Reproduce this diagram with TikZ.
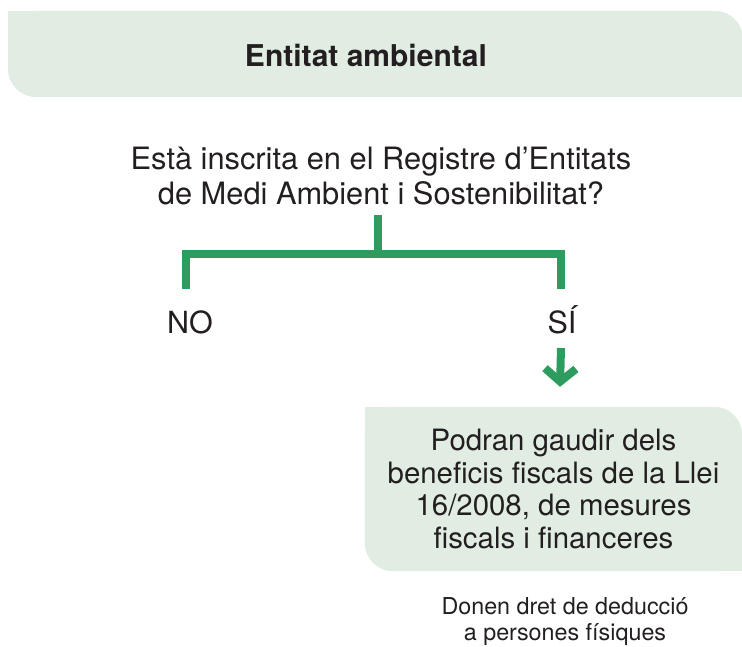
\documentclass[tikz,border=0pt]{standalone}
\usepackage{fontspec}
\setmainfont{TeX Gyre Heros}
\usetikzlibrary{arrows.meta,backgrounds}
\definecolor{leafgreen}{HTML}{2E9B5F}
\definecolor{palegreen}{HTML}{E1EDE3}
\definecolor{inkgray}{HTML}{231F20}

\begin{document}
\begin{tikzpicture}[x=1pt,y=-1pt]
\tikzstyle{label}=[inner sep=0pt,text=inkgray,align=center]
\tikzstyle{brk}=[draw=leafgreen,line width=8pt,line join=miter]
\tikzstyle{panel}=[fill=palegreen]
\useasboundingbox (0,0) rectangle (742,647);

\node[label,font=\fontsize{30}{34}\selectfont\bfseries] (hdr) at (366,55) {Entitat ambiental};
\node[label,font=\fontsize{30.8}{34.5}\selectfont,anchor=south] (q) at (381,205)
  {Està inscrita en el Registre d’Entitats\\de Medi Ambient i Sostenibilitat?};
\node[label,font=\fontsize{30.5}{34}\selectfont,anchor=base] (no) at (190,334) {NO};
\node[label,font=\fontsize{30.5}{34}\selectfont,anchor=base] (si) at (562,334) {SÍ};
\node[label,font=\fontsize{29.4}{32.5}\selectfont,minimum width=377pt,minimum height=164pt] (res) at (553.5,489)
  {Podran gaudir dels\\beneficis fiscals de la Llei\\16/2008, de mesures\\fiscals i financeres};
\node[label,font=\fontsize{23.3}{26}\selectfont] (note) at (565,622)
  {Donen dret de deducció\\a persones físiques};

\coordinate (jn) at (378,254);
\draw[brk,shorten >=10pt] (jn) -- (jn |- q.south);
\draw[brk] ([xshift=-4pt,yshift=45pt]no.base) |- (jn) -| ([xshift=-1pt,yshift=45pt]si.base);
\draw[brk,-{Straight Barb[sharp,length=13pt,width=31pt]}] ([xshift=-1pt,yshift=-14pt]si.base) -- ([xshift=6.5pt,yshift=20pt]res.north);

\begin{scope}[on background layer]
\fill[panel,rounded corners=28pt] (8,11) rectangle (743,97);
\fill[panel] (8,11) rectangle (50,50);
\fill[panel] (700,60) rectangle (743,97);
\fill[panel,rounded corners=28pt] (res.north west) rectangle (res.south east);
\fill[panel] (res.north west) rectangle ++(40,40);
\fill[panel] (res.south east) rectangle ++(-40,-40);
\end{scope}
\end{tikzpicture}
\end{document}
